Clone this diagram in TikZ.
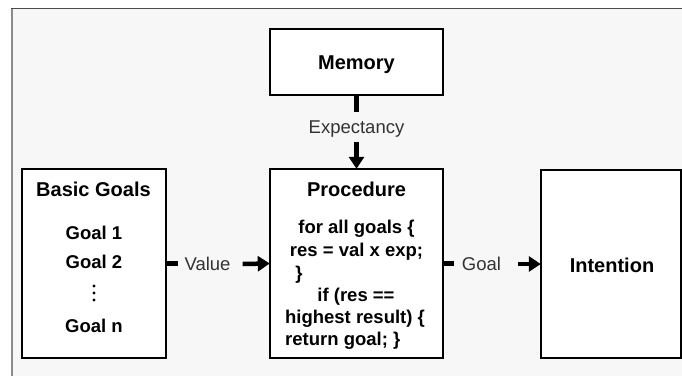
\documentclass[tikz,border=0pt]{standalone}
\usepackage{fontspec}
\setmainfont{Liberation Sans}
\usetikzlibrary{arrows.meta}
\definecolor{panel}{HTML}{F7F7F7}
\definecolor{labelgray}{HTML}{333333}
\tikzset{
  box/.style={draw=black, line width=2.5pt, fill=white, inner sep=0pt},
  title/.style={font=\fontsize{20}{22}\selectfont\bfseries, inner sep=0pt,
    text height=14.3pt, text depth=0pt, anchor=center},
  body/.style={font=\fontsize{18.5}{21}\selectfont\bfseries, inner sep=0pt,
    text height=13.2pt, text depth=0pt},
  flowlabel/.style={font=\fontsize{18.5}{21}\selectfont, text=labelgray,
    inner sep=0pt, text height=13.2pt, text depth=0pt},
  gdot/.style={circle, fill=black, inner sep=0pt, minimum size=3.2pt},
  stub/.style={line width=4.5pt, black},
  flowarrow/.style={line width=4.5pt, black,
    -{Triangle[length=12pt,width=15pt]}, shorten >=-1pt}
}
\begin{document}
\begin{tikzpicture}[x=1pt, y=-1pt]
  \useasboundingbox (0,0) rectangle (682,376);
  % panel behind the diagram
  \fill[white] (0,0) rectangle (682,376);
  \fill[panel] (12,8.5) rectangle (682,376);
  \draw[line width=1.7pt, color=black!70] (11.2,8.5) -- (682,8.5);
  \draw[line width=1.7pt, color=black!45] (11.8,8.5) -- (11.8,376);

  % boxes
  \node[box, minimum width=173pt, minimum height=66pt] (mem) at (356.5,62) {};
  \node[title] (memt) at (mem.center) {Memory};

  \node[box, minimum width=144pt, minimum height=189pt] (bg) at (94,263.5) {};
  \node[title] (bgt) at (93.5,189) {Basic Goals};
  \node[body] (g1) at (94,233) {Goal 1};
  \node[body] (g2) at (94,262) {Goal 2};
  \node[gdot] (gd1) at (94,286) {};
  \node[gdot] (gd2) at (94,293) {};
  \node[gdot] (gd3) at (94,300) {};
  \node[body] (gn) at (94,326) {Goal n};

  \node[box, minimum width=173pt, minimum height=189pt] (proc) at (356.5,263.5) {};
  \node[title] (proct) at (356.5,189) {Procedure};
  \node[body] (c1) at (356.5,227) {for all goals \{};
  \node[body] (c2) at (356.5,250) {res = val x exp;};
  \node[body] (c3) at (299,273) {\}};
  \node[body] (c4) at (356,295) {if (res ==};
  \node[body] (c5) at (355,317) {highest result) \{};
  \node[body, anchor=west] (c6) at (285,339) {return goal; \}};

  \node[box, minimum width=140pt, minimum height=188pt] (int) at (611,264) {};
  \node[title] (intt) at (612,265) {Intention};

  % flow labels
  \node[flowlabel] (expl) at (356.5,127) {Expectancy};
  \node[flowlabel] (vall) at (207.5,264) {Value};
  \node[flowlabel] (goall) at (481.5,264) {Goal};

  % connectors
  \draw[stub] (mem.south) -- ([yshift=-16pt]mem.south);
  \draw[flowarrow] ([yshift=-8.5pt]expl.south) -- (proc.north);

  \draw[stub] (bg.east) -- ([xshift=11pt]bg.east);
  \draw[flowarrow] ([xshift=12pt]vall.east) -- (proc.west);

  \draw[stub] (proc.east) -- ([xshift=10pt]proc.east);
  \draw[flowarrow] ([xshift=17pt]goall.east) -- (int.west);
\end{tikzpicture}
\end{document}
